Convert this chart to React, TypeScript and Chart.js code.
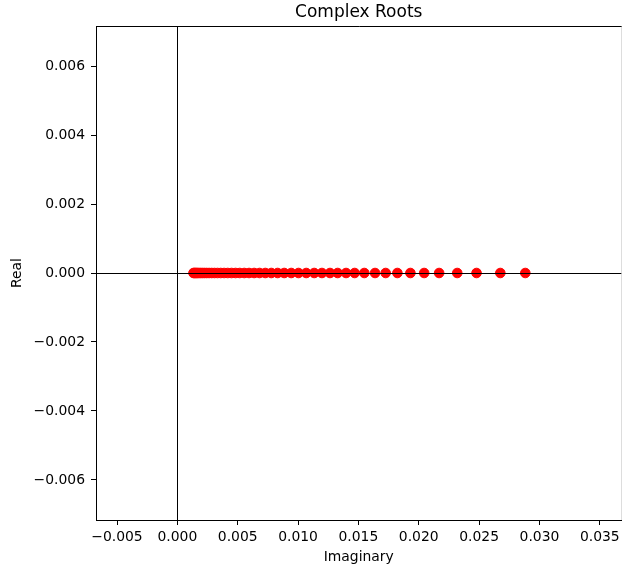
import { useEffect, useRef } from 'react';
import { Chart, registerables } from 'chart.js';

Chart.register(...registerables);

// Imaginary parts of the roots (x axis); their real parts are all zero.
const imagParts = [
  0.001336, 0.001411, 0.001494, 0.001585, 0.001685, 0.001801, 0.001934, 0.002083,
  0.002249, 0.002432, 0.002631, 0.002846, 0.003079, 0.003328, 0.003593, 0.003876,
  0.004174, 0.00449, 0.004822, 0.00517, 0.005544, 0.005942, 0.006365, 0.006813,
  0.007286, 0.007784, 0.008307, 0.008855, 0.009436, 0.01004, 0.01068, 0.01134,
  0.01198, 0.01265, 0.01328, 0.01398, 0.01469, 0.01549, 0.01638, 0.01726,
  0.01823, 0.01931, 0.02045, 0.02169, 0.02319, 0.02479, 0.02676, 0.02883,
];
const realPart = 0;

const xTicks = [-0.005, 0, 0.005, 0.01, 0.015, 0.02, 0.025, 0.03, 0.035];
const yTicks = [-0.006, -0.004, -0.002, 0, 0.002, 0.004, 0.006];

const titleText = 'Complex Roots';
const xLabel = 'Imaginary';
const yLabel = 'Real';

const FONT = "'DejaVu Sans', sans-serif";

const fmt = (v: number) => {
  const s = Math.abs(v).toFixed(3);
  return v < -1e-12 ? '\u2212' + s : s;
};

const overlay = {
  id: 'overlay',
  afterDatasetsDraw(chart: any) {
    const { ctx, chartArea: a, scales } = chart;
    const x0 = Math.round(scales.x.getPixelForValue(0)) + 0.5;
    const y0 = Math.round(scales.y.getPixelForValue(0)) + 0.5;
    ctx.save();
    ctx.strokeStyle = '#000';
    ctx.lineWidth = 1;
    ctx.beginPath();
    ctx.moveTo(a.left, y0);
    ctx.lineTo(a.right, y0);
    ctx.moveTo(x0, a.top);
    ctx.lineTo(x0, a.bottom);
    ctx.stroke();
    // top and right frame edges
    ctx.beginPath();
    ctx.moveTo(a.left, a.top + 0.5);
    ctx.lineTo(a.right + 1, a.top + 0.5);
    ctx.stroke();
    ctx.strokeStyle = '#bbbbbb';
    ctx.beginPath();
    ctx.moveTo(a.right + 0.5, a.top);
    ctx.lineTo(a.right + 0.5, a.bottom);
    ctx.stroke();
    ctx.restore();
  },
  afterDraw(chart: any) {
    const { ctx, chartArea: a } = chart;
    const cx = (a.left + a.right) / 2;
    ctx.save();
    ctx.fillStyle = '#000';
    ctx.textAlign = 'center';
    ctx.textBaseline = 'middle';
    ctx.font = `17px ${FONT}`;
    ctx.fillText(titleText, cx, 13);
    ctx.font = `13.9px ${FONT}`;
    ctx.fillText(xLabel, cx, 557);
    ctx.translate(17, (a.top + a.bottom) / 2);
    ctx.rotate(-Math.PI / 2);
    ctx.fillText(yLabel, 0, 0);
    ctx.restore();
  },
};

export default function App() {
  const ref = useRef<HTMLCanvasElement | null>(null);

  useEffect(() => {
    document.body.style.margin = '0';
    const canvas = ref.current;
    if (!canvas) return;
    const tickFont = { family: FONT, size: 13.9 };
    const chart = new Chart(canvas, {
      type: 'scatter',
      data: {
        datasets: [
          {
            data: imagParts.map((v) => ({ x: v, y: realPart })),
            backgroundColor: '#ff0000',
            borderColor: '#ff0000',
            borderWidth: 1,
            pointRadius: 4.8,
            pointHoverRadius: 4.8,
          },
        ],
      },
      options: {
        responsive: false,
        animation: false,
        events: [],
        layout: { autoPadding: false, padding: { left: 0, right: 0.5, top: 26, bottom: 0 } },
        plugins: {
          legend: { display: false },
          title: { display: false },
          tooltip: { enabled: false },
        },
        scales: {
          x: {
            type: 'linear',
            min: -0.00674,
            max: 0.0368,
            afterBuildTicks: (s: any) => {
              s.ticks = xTicks.map((v) => ({ value: v }));
            },
            afterFit: (s: any) => {
              s.height = 52;
              s.paddingLeft = 0;
              s.paddingRight = 0;
            },
            ticks: {
              color: '#000',
              font: tickFont,
              padding: 4,
              maxRotation: 0,
              autoSkip: false,
              callback: (v: any) => fmt(Number(v)),
            },
            grid: {
              display: true,
              drawOnChartArea: false,
              drawTicks: true,
              tickLength: 5,
              color: '#000',
              lineWidth: 1,
            },
            border: { display: true, color: '#000', width: 1 },
          },
          y: {
            type: 'linear',
            min: -0.00716,
            max: 0.00716,
            afterBuildTicks: (s: any) => {
              s.ticks = yTicks.map((v) => ({ value: v }));
            },
            afterFit: (s: any) => {
              s.width = 96;
              s.paddingTop = 0;
              s.paddingBottom = 0;
            },
            ticks: {
              color: '#000',
              font: tickFont,
              padding: 6,
              autoSkip: false,
              callback: (v: any) => fmt(Number(v)),
            },
            grid: {
              display: true,
              drawOnChartArea: false,
              drawTicks: true,
              tickLength: 5,
              color: '#000',
              lineWidth: 1,
            },
            border: { display: true, color: '#000', width: 1 },
          },
        },
      },
      plugins: [overlay],
    });
    return () => chart.destroy();
  }, []);

  return (
    <div style={{ position: 'fixed', left: 0, top: 0, width: 622, height: 572, background: '#fff' }}>
      <canvas ref={ref} width={622} height={572} style={{ width: 622, height: 572 }} />
    </div>
  );
}
